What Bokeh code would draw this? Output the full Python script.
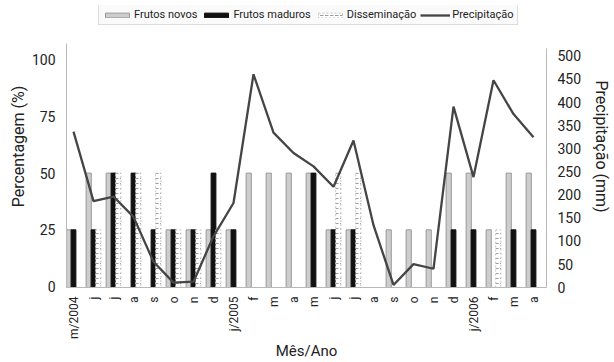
from math import pi
from bokeh.plotting import figure
from bokeh.models import Range1d, LinearAxis, Legend, LegendItem, FixedTicker, ColumnDataSource
from bokeh.embed import file_html
from bokeh.resources import INLINE

months = ["m/2004", "j", "j", "a", "s", "o", "n", "d", "j/2005", "f", "m", "a",
          "m", "j", "j", "a", "s", "o", "n", "d", "j/2006", "f", "m", "a"]
novos = [25, 50, 50, 0, 0, 25, 25, 25, 25, 50, 50, 50,
         50, 25, 25, 0, 25, 25, 25, 50, 50, 25, 50, 50]
maduros = [25, 25, 50, 50, 25, 25, 25, 50, 25, 0, 0, 0,
           50, 25, 25, 0, 0, 0, 0, 25, 25, 0, 25, 25]
dissem = [0, 25, 50, 50, 50, 25, 25, 25, 0, 0, 0, 0,
          0, 50, 50, 0, 0, 0, 0, 0, 0, 25, 0, 0]
precip = [336, 186, 196, 152, 55, 10, 12, 110, 182, 460, 334, 290,
          261, 217, 317, 134, 5, 50, 40, 390, 238, 447, 374, 324]

FONT = "Roboto, 'Liberation Sans', sans-serif"
x = list(range(len(months)))
y0 = -0.43


def src(vals, off):
    xs = [i + off for i, v in enumerate(vals) if v > 0]
    ts = [v for v in vals if v > 0]
    return ColumnDataSource(dict(x=xs, top=ts))


p = figure(width=614, height=362, output_backend="svg", toolbar_location=None,
           x_range=Range1d(-0.35, 23.65), y_range=Range1d(y0, 123.9),
           min_border_left=66, min_border_right=61, min_border_top=5,
           min_border_bottom=71)
p.extra_y_ranges = {"mm": Range1d(-0.5, 608.5)}
p.grid.visible = False
p.outline_line_color = None
p.background_fill_color = "white"
p.border_fill_color = "white"

r_novos = p.vbar(x="x", top="top", bottom=y0, width=0.26, source=src(novos, -0.24),
                 fill_color="#cdcdcd", line_color="#9a9a9a", line_width=1)
r_mad = p.vbar(x="x", top="top", bottom=y0, width=0.24, source=src(maduros, 0),
               fill_color="#111111", line_color="#111111", line_width=1)
r_dis = p.vbar(x="x", top="top", bottom=y0, width=0.26, source=src(dissem, 0.24),
               fill_color="white", line_color="#c4c4c4", line_width=1, line_dash="2 2",
               hatch_pattern="horizontal_dash", hatch_color="#9c9c9c", hatch_scale=5,
               hatch_weight=1)
r_pre = p.line(x=x, y=precip, y_range_name="mm", line_color="#454545", line_width=2.3)

left = p.yaxis[0]
left.ticker = FixedTicker(ticks=[0, 25, 50, 75, 100])
left.axis_label = "Percentagem (%)"
left.bounds = (y0, 107)
right = LinearAxis(y_range_name="mm", axis_label="Precipitação (mm)",
                   ticker=FixedTicker(ticks=list(range(0, 501, 50))))
right.bounds = (-0.5, 514.6)
p.add_layout(right, "right")
bottom = p.xaxis[0]
bottom.ticker = FixedTicker(ticks=x)
bottom.major_label_overrides = {i: m for i, m in enumerate(months)}
bottom.major_label_orientation = pi / 2
bottom.axis_label = "Mês/Ano"

for ax in [left, right, bottom]:
    ax.major_label_text_font = FONT
    ax.major_label_text_font_size = "14px"
    ax.major_label_text_color = "#222222"
    ax.axis_label_text_font = FONT
    ax.axis_label_text_font_size = "16px"
    ax.axis_label_text_font_style = "normal"
    ax.axis_label_text_color = "#222222"
    ax.major_tick_line_color = None
    ax.minor_tick_line_color = None
    ax.axis_line_color = "#b8b8b8"
    ax.major_label_standoff = 5
    ax.axis_label_standoff = 8
left.axis_label_standoff = 1
bottom.major_label_text_font_size = "12px"
bottom.axis_label_text_font_size = "15px"
bottom.axis_label_standoff = 0
bottom.major_label_standoff = 3

legend = Legend(items=[
    LegendItem(label="Frutos novos", renderers=[r_novos]),
    LegendItem(label="Frutos maduros", renderers=[r_mad]),
    LegendItem(label="Disseminação", renderers=[r_dis]),
    LegendItem(label="Precipitação", renderers=[r_pre]),
], orientation="horizontal", location=(32, 262))
legend.label_text_font = FONT
legend.label_text_font_size = "11px"
legend.label_text_color = "#222222"
legend.glyph_width = 30
legend.glyph_height = 6
legend.spacing = 4
legend.padding = 3
legend.margin = 0
legend.label_standoff = 2
legend.border_line_color = "#bdbdbd"
legend.background_fill_color = "#fafafa"
legend.background_fill_alpha = 1
p.add_layout(legend, "center")

open("out.html", "w").write(file_html(p, INLINE))
